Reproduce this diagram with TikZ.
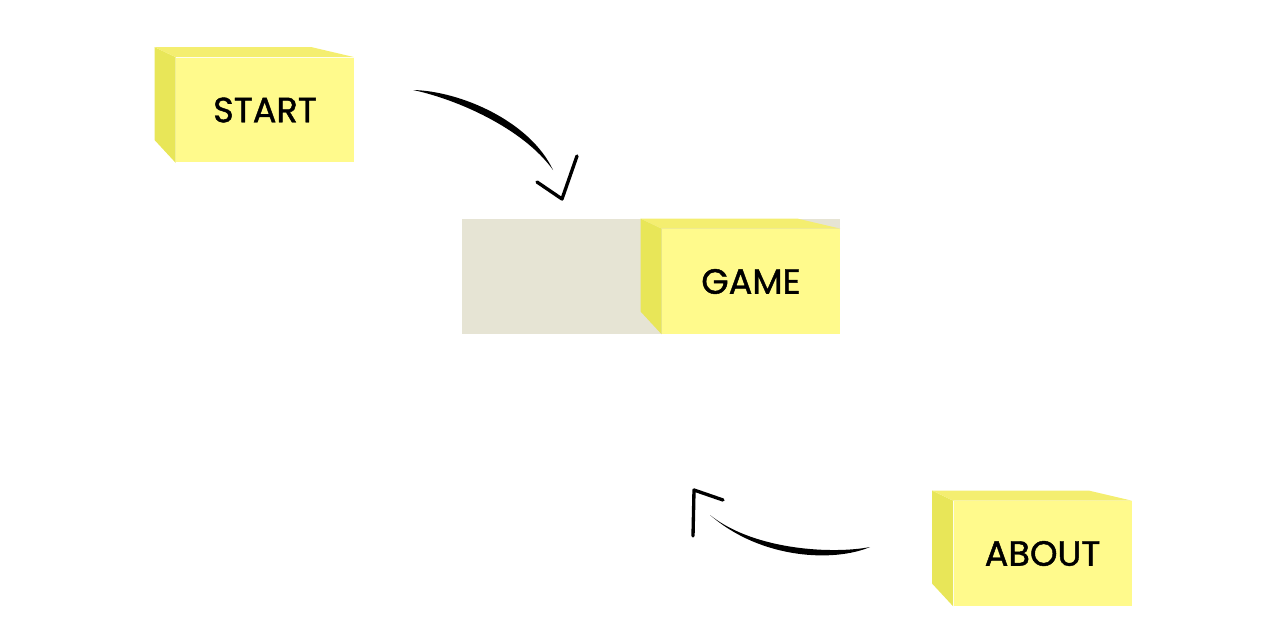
\documentclass[tikz,border=0pt]{standalone}
\usepackage{fontspec}
\setmainfont{Poppins}
\newfontfamily\notefont{Poppins}[FakeBold=1.2]
\definecolor{note}{RGB}{255,250,140}
\definecolor{noteside}{RGB}{232,230,88}
\definecolor{notetop}{RGB}{244,238,112}
\definecolor{panel}{RGB}{230,228,212}

\begin{document}
\begin{tikzpicture}[x=0.02cm, y=-0.02cm]
            \tikzset{sticky/.style={fill=note, minimum width=3.56cm, minimum height=2.1cm, inner sep=0pt, font=\notefont\fontsize{20}{24}\selectfont},
                     stroke/.style={fill=black},
                     barb/.style={line width=1.9pt, line cap=round, line join=round}}
            \useasboundingbox (0, 0) rectangle (1280, 622);
            \fill[panel] (462, 219) rectangle (840, 334);
            \node[sticky] (start) at (265, 110) {START};
            \node[sticky] (game) at (751, 281.5) {GAME};
            \node[sticky] (about) at (1042.5, 553.5) {ABOUT};
            \foreach \n in {start, game, about} {
                \fill[noteside] (\n.north west) -- ++(-21, -10) -- ++(0, 93) -- (\n.south west) -- cycle;
                \fill[notetop] (\n.north west) -- ++(-21, -10) -- ++(157, 0) -- (\n.north east) -- cycle;
            }
            \coordinate (toGameFrom) at (413, 90);
            \coordinate (toGameTo) at (553, 170);
            \coordinate (toGameTip) at (562, 199);
            \coordinate (toGameL) at (537, 182);
            \coordinate (toGameR) at (577, 156);
            \fill[stroke] (toGameFrom) .. controls (460, 91) and (530, 121) .. (toGameTo) .. controls (523, 128) and (456, 99) .. (toGameFrom);
            \draw[barb] (toGameL) -- (toGameTip) -- (toGameR);
            \coordinate (fromAboutFrom) at (870, 547);
            \coordinate (fromAboutTo) at (710, 515);
            \coordinate (fromAboutTip) at (694, 490);
            \coordinate (fromAboutL) at (723, 500);
            \coordinate (fromAboutR) at (693, 536);
            \fill[stroke] (fromAboutFrom) .. controls (835, 562) and (762, 560) .. (fromAboutTo) .. controls (755, 551) and (835, 554) .. (fromAboutFrom);
            \draw[barb] (fromAboutL) -- (fromAboutTip) -- (fromAboutR);
        \end{tikzpicture}
\end{document}
